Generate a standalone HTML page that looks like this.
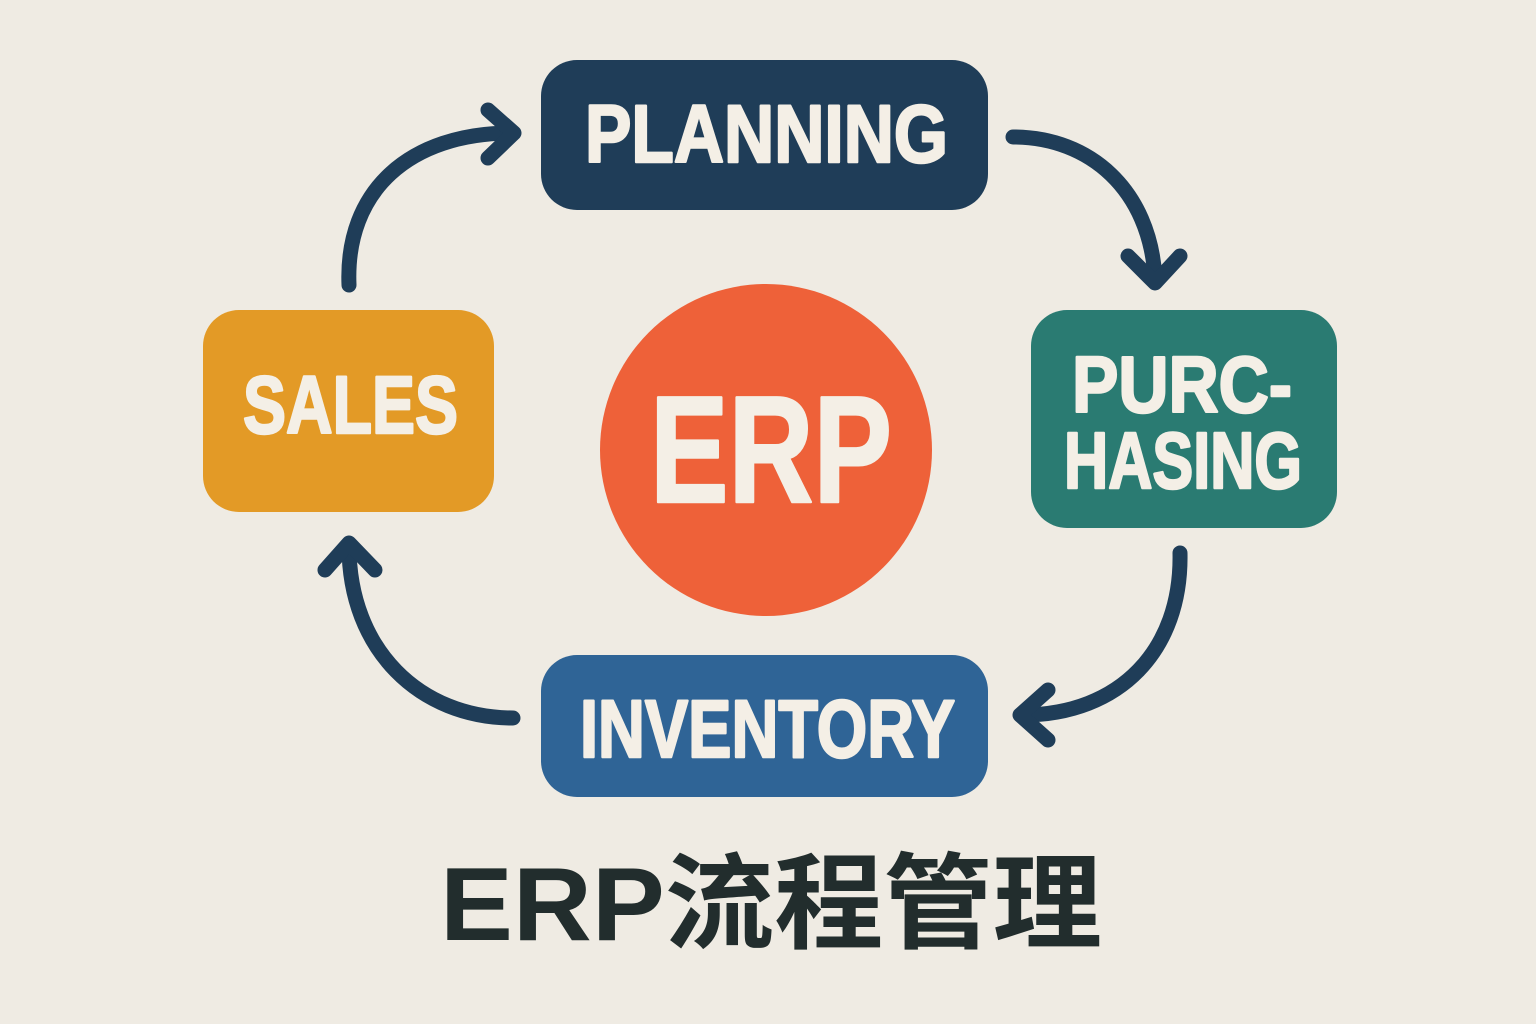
<!DOCTYPE html>
<html><head><meta charset="utf-8"><style>
html,body{margin:0;padding:0;background:#efebe3;}
svg{display:block}
</style></head><body>
<svg width="1536" height="1024" viewBox="0 0 1536 1024" xmlns="http://www.w3.org/2000/svg">
<rect width="1536" height="1024" fill="#efebe3"/>
<g fill="none" stroke="#1f3d58" stroke-width="15" stroke-linecap="round" stroke-linejoin="round">
  <path d="M349,285 C345,190 410,133 512,133"/>
  <path d="M488,110 L514,133 L488,158"/>
  <path d="M1013,137 C1090,137 1150,190 1155,278"/>
  <path d="M1128,256 L1155,283 L1180,256"/>
  <path d="M1180,553 C1182,650 1120,715 1022,715"/>
  <path d="M1048,690 L1020,715 L1048,740"/>
  <path d="M513,718 C420,718 349,650 349,546"/>
  <path d="M325,570 L349,543 L375,570"/>
</g>
<rect x="541" y="60" width="447" height="150" rx="36" fill="#1f3d58"/>
<rect x="203" y="310" width="291" height="202" rx="36" fill="#e39a26"/>
<rect x="1031" y="310" width="306" height="218" rx="36" fill="#2a7b72"/>
<rect x="541" y="655" width="447" height="142" rx="36" fill="#2f6496"/>
<circle cx="766" cy="450" r="166" fill="#ee6139"/>
<g font-family="Liberation Sans, sans-serif" font-weight="bold" fill="#f4efe6" stroke="#f4efe6" stroke-width="2.5" stroke-linejoin="round">
  <text x="585" y="162" font-size="82" textLength="363" lengthAdjust="spacingAndGlyphs">PLANNING</text>
  <text x="243" y="433" font-size="82" textLength="215" lengthAdjust="spacingAndGlyphs">SALES</text>
  <text x="1072" y="412" font-size="80" textLength="220" lengthAdjust="spacingAndGlyphs">PURC-</text>
  <text x="1064" y="488" font-size="80" textLength="238" lengthAdjust="spacingAndGlyphs">HASING</text>
  <text x="580" y="757" font-size="82" textLength="375" lengthAdjust="spacingAndGlyphs">INVENTORY</text>
  <text x="650" y="502" font-size="152" textLength="242" lengthAdjust="spacingAndGlyphs">ERP</text>
</g>
<text x="440" y="940" font-family="Liberation Sans, Noto Sans CJK SC, sans-serif" font-weight="bold" font-size="104" fill="#222d2d" textLength="662" lengthAdjust="spacingAndGlyphs">ERP流程管理</text>
</svg>
</body></html>
